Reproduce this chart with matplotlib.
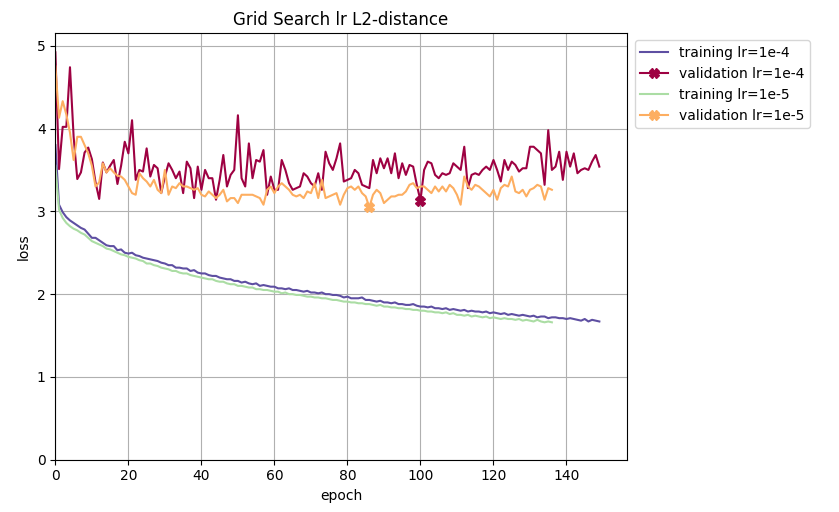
import matplotlib
matplotlib.use("Agg")
import matplotlib.pyplot as plt
import numpy as np

# colours taken from the Spectral palette
colors = {
    "train_1e4": "#5e4fa2",
    "val_1e4": "#9e0142",
    "train_1e5": "#abdda4",
    "val_1e5": "#fdae61",
}

train_lr_1e4 = [
    3.80, 3.08, 2.99, 2.93, 2.89, 2.86, 2.83, 2.80, 2.78, 2.73,
    2.68, 2.68, 2.65, 2.62, 2.59, 2.58, 2.58, 2.53, 2.54, 2.50,
    2.49, 2.50, 2.47, 2.46, 2.44, 2.43, 2.42, 2.41, 2.40, 2.38,
    2.37, 2.35, 2.35, 2.32, 2.32, 2.31, 2.31, 2.28, 2.29, 2.26,
    2.25, 2.25, 2.23, 2.22, 2.22, 2.20, 2.19, 2.18, 2.18, 2.16,
    2.16, 2.14, 2.15, 2.13, 2.12, 2.13, 2.10, 2.11, 2.10, 2.09,
    2.09, 2.07, 2.07, 2.06, 2.07, 2.05, 2.05, 2.04, 2.03, 2.04,
    2.02, 2.02, 2.01, 2.02, 2.00, 2.00, 1.99, 1.99, 1.98, 1.96,
    1.97, 1.95, 1.95, 1.95, 1.96, 1.93, 1.93, 1.92, 1.91, 1.92,
    1.90, 1.90, 1.89, 1.90, 1.88, 1.88, 1.87, 1.87, 1.88, 1.86,
    1.85, 1.85, 1.84, 1.85, 1.83, 1.83, 1.82, 1.83, 1.81, 1.82,
    1.81, 1.80, 1.81, 1.79, 1.80, 1.79, 1.79, 1.78, 1.79, 1.77,
    1.78, 1.77, 1.76, 1.77, 1.75, 1.76, 1.75, 1.74, 1.75, 1.74,
    1.73, 1.74, 1.72, 1.73, 1.73, 1.71, 1.72, 1.72, 1.71, 1.71,
    1.70, 1.71, 1.70, 1.69, 1.68, 1.70, 1.67, 1.69, 1.68, 1.67,
]

val_lr_1e4 = [
    4.92, 3.51, 4.02, 4.02, 4.74, 3.90, 3.39, 3.47, 3.71, 3.77,
    3.63, 3.35, 3.15, 3.59, 3.47, 3.55, 3.62, 3.33, 3.55, 3.84,
    3.70, 4.10, 3.38, 3.50, 3.48, 3.76, 3.42, 3.56, 3.52, 3.22,
    3.42, 3.58, 3.50, 3.40, 3.48, 3.22, 3.60, 3.52, 3.16, 3.54,
    3.26, 3.50, 3.40, 3.40, 3.14, 3.38, 3.68, 3.30, 3.44, 3.50,
    4.16, 3.40, 3.30, 3.82, 3.40, 3.62, 3.60, 3.74, 3.20, 3.42,
    3.26, 3.26, 3.62, 3.50, 3.34, 3.26, 3.28, 3.30, 3.46, 3.42,
    3.34, 3.30, 3.46, 3.26, 3.72, 3.58, 3.50, 3.64, 3.82, 3.36,
    3.38, 3.40, 3.50, 3.46, 3.32, 3.30, 3.28, 3.62, 3.46, 3.64,
    3.52, 3.64, 3.46, 3.70, 3.40, 3.58, 3.44, 3.56, 3.54, 3.32,
    3.13, 3.50, 3.60, 3.58, 3.44, 3.40, 3.46, 3.44, 3.46, 3.58,
    3.54, 3.50, 3.78, 3.28, 3.44, 3.46, 3.44, 3.50, 3.54, 3.50,
    3.62, 3.50, 3.36, 3.62, 3.50, 3.60, 3.56, 3.48, 3.52, 3.52,
    3.78, 3.78, 3.74, 3.70, 3.32, 3.98, 3.50, 3.54, 3.72, 3.38,
    3.72, 3.54, 3.70, 3.46, 3.50, 3.52, 3.50, 3.60, 3.68, 3.54,
]

train_lr_1e5 = [
    3.55, 3.02, 2.92, 2.86, 2.82, 2.79, 2.77, 2.74, 2.72, 2.68,
    2.64, 2.62, 2.60, 2.58, 2.55, 2.54, 2.52, 2.50, 2.48, 2.47,
    2.45, 2.44, 2.43, 2.41, 2.40, 2.37, 2.37, 2.35, 2.34, 2.32,
    2.31, 2.30, 2.28, 2.28, 2.26, 2.25, 2.25, 2.23, 2.22, 2.21,
    2.20, 2.19, 2.18, 2.18, 2.16, 2.15, 2.15, 2.13, 2.12, 2.12,
    2.10, 2.10, 2.09, 2.08, 2.08, 2.06, 2.06, 2.05, 2.05, 2.04,
    2.03, 2.03, 2.01, 2.02, 2.00, 2.00, 1.99, 1.99, 1.98, 1.97,
    1.97, 1.96, 1.96, 1.95, 1.95, 1.94, 1.93, 1.93, 1.92, 1.91,
    1.91, 1.90, 1.90, 1.89, 1.89, 1.88, 1.88, 1.87, 1.86, 1.87,
    1.85, 1.85, 1.84, 1.84, 1.83, 1.83, 1.82, 1.82, 1.81, 1.81,
    1.80, 1.80, 1.79, 1.79, 1.78, 1.78, 1.77, 1.78, 1.76, 1.77,
    1.75, 1.75, 1.74, 1.75, 1.73, 1.74, 1.73, 1.72, 1.73, 1.71,
    1.72, 1.71, 1.70, 1.71, 1.70, 1.70, 1.69, 1.70, 1.68, 1.69,
    1.68, 1.67, 1.69, 1.67, 1.66, 1.67, 1.66,
]

val_lr_1e5 = [
    4.75, 4.13, 4.33, 4.17, 3.95, 3.62, 3.90, 3.90, 3.80, 3.70,
    3.55, 3.30, 3.35, 3.58, 3.47, 3.52, 3.47, 3.43, 3.42, 3.38,
    3.30, 3.22, 3.20, 3.46, 3.40, 3.36, 3.30, 3.38, 3.26, 3.22,
    3.50, 3.20, 3.30, 3.28, 3.34, 3.30, 3.30, 3.28, 3.26, 3.28,
    3.20, 3.18, 3.24, 3.20, 3.16, 3.20, 3.26, 3.12, 3.16, 3.16,
    3.10, 3.20, 3.20, 3.20, 3.20, 3.18, 3.16, 3.08, 3.26, 3.30,
    3.22, 3.30, 3.34, 3.30, 3.26, 3.20, 3.18, 3.20, 3.16, 3.24,
    3.22, 3.34, 3.16, 3.38, 3.16, 3.18, 3.20, 3.22, 3.08, 3.20,
    3.28, 3.30, 3.26, 3.30, 3.22, 3.18, 3.05, 3.20, 3.26, 3.22,
    3.10, 3.14, 3.18, 3.18, 3.20, 3.20, 3.24, 3.32, 3.34, 3.28,
    3.30, 3.30, 3.26, 3.22, 3.30, 3.24, 3.30, 3.24, 3.32, 3.28,
    3.20, 3.08, 3.42, 3.30, 3.26, 3.32, 3.30, 3.26, 3.22, 3.18,
    3.26, 3.14, 3.28, 3.32, 3.30, 3.42, 3.24, 3.22, 3.26, 3.18,
    3.26, 3.28, 3.32, 3.30, 3.14, 3.28, 3.26,
]

series = [
    ("training lr=1e-4", train_lr_1e4, colors["train_1e4"], False),
    ("validation lr=1e-4", val_lr_1e4, colors["val_1e4"], True),
    ("training lr=1e-5", train_lr_1e5, colors["train_1e5"], False),
    ("validation lr=1e-5", val_lr_1e5, colors["val_1e5"], True),
]

fig, ax = plt.subplots(figsize=(8.39, 5.12), dpi=100)

for label, values, color, is_val in series:
    y = np.array(values)
    x = np.arange(len(y))
    if is_val:
        # mark only the best (lowest) validation epoch
        best = int(np.argmin(y))
        ax.plot(x, y, label=label, color=color, linewidth=1.5,
                marker="X", markersize=7, markevery=[best])
    else:
        ax.plot(x, y, label=label, color=color, linewidth=1.5)

ax.set_title("Grid Search lr L2-distance")
ax.set_xlabel("epoch")
ax.set_ylabel("loss")
ax.set_xlim(0, 156.5)
ax.set_ylim(0, 5.15)
ax.grid(True)
ax.legend(loc="upper left", bbox_to_anchor=(1.002, 1.0))

fig.subplots_adjust(left=0.066, right=0.747, top=0.935, bottom=0.102)
fig.savefig("out.png", dpi=100)
